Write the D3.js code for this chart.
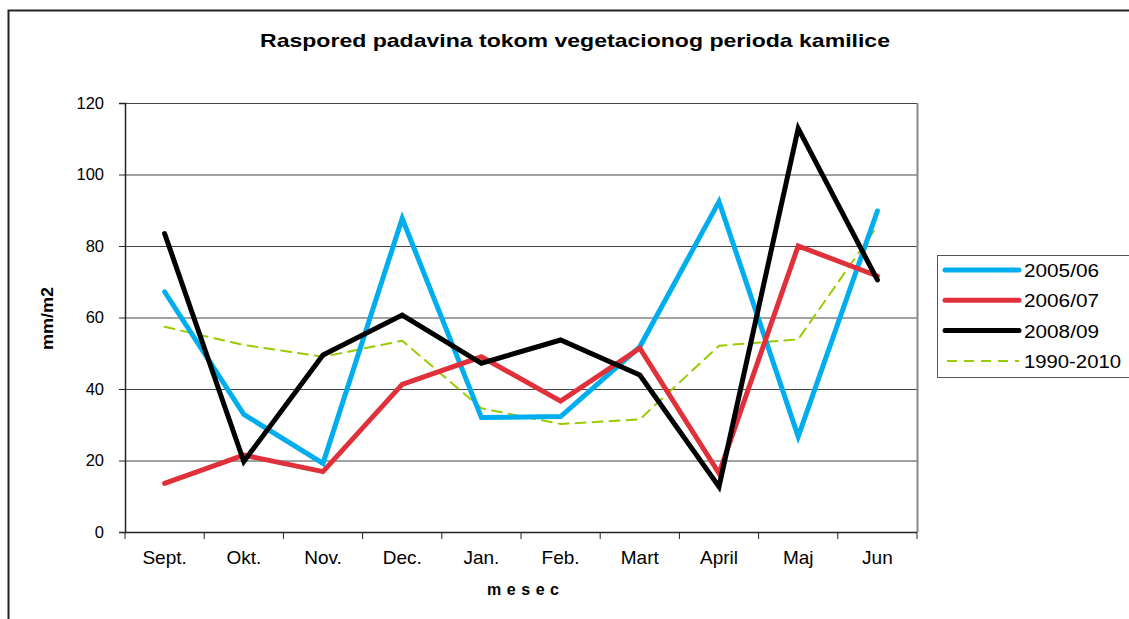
<!DOCTYPE html>
<html>
<head>
<meta charset="utf-8">
<script src="https://cdn.jsdelivr.net/npm/d3@7"></script>
<style>
  body { margin: 0; background: #fff; }
  text { font-family: "Liberation Sans", Arial, sans-serif; }
</style>
</head>
<body>
<div id="chart"></div>
<script>
// data
var months = ["Sept.", "Okt.", "Nov.", "Dec.", "Jan.", "Feb.", "Mart", "April", "Maj", "Jun"];
var seriesNames = ["2005/06", "2006/07", "2008/09", "1990-2010"];
var s2005 = [67.2, 32.9, 19.2, 87.7, 32.0, 32.3, 51.8, 92.4, 26.7, 89.8];
var s2006 = [13.6, 21.5, 16.9, 41.3, 49.0, 36.6, 51.4, 16.4, 80.0, 71.6];
var s2008 = [83.5, 19.7, 49.5, 60.7, 47.2, 53.7, 43.9, 12.7, 112.9, 70.5];
var sAvg = [57.4, 52.3, 49.0, 53.5, 34.6, 30.2, 31.5, 52.1, 53.9, 85.6];
var yTicks = [0, 20, 40, 60, 80, 100, 120];

var svgWidth = 1129;
var svgHeight = 619;

var margin = { top: 103, right: 212, bottom: 87, left: 125 };
var width = svgWidth - margin.left - margin.right;
var height = svgHeight - margin.top - margin.bottom;

var svg = d3.select("#chart").append("svg")
  .attr("width", svgWidth).attr("height", svgHeight);

// outer frame
svg.append("rect")
  .attr("x", 8.5).attr("y", 10.5)
  .attr("width", 1140).attr("height", 640)
  .attr("fill", "none").attr("stroke", "#222").attr("stroke-width", 2);

svg.append("text")
  .attr("x", 260).attr("y", 47)
  .attr("font-size", 19).attr("font-weight", "bold")
  .attr("textLength", 630).attr("lengthAdjust", "spacingAndGlyphs")
  .text("Raspored padavina tokom vegetacionog perioda kamilice");

var chartGroup = svg.append("g")
  .attr("transform", `translate(${margin.left}, ${margin.top})`);

var xScale = d3.scaleBand().domain(months).range([0, width]);
var yScale = d3.scaleLinear().domain([0, 120]).range([height, 0]);

// gridlines
chartGroup.selectAll(".grid")
  .data(yTicks.filter(d => d > 0))
  .enter().append("line")
  .attr("x1", 0).attr("x2", width)
  .attr("y1", d => yScale(d) + 0.5).attr("y2", d => yScale(d) + 0.5)
  .attr("stroke", "#444").attr("stroke-width", 1);

// right border of plot
chartGroup.append("line")
  .attr("x1", width + 0.5).attr("x2", width + 0.5)
  .attr("y1", 0).attr("y2", height)
  .attr("stroke", "#888").attr("stroke-width", 2);

// y axis
var leftAxis = d3.axisLeft(yScale).tickValues(yTicks).tickSize(6).tickPadding(15);
var yAxis = chartGroup.append("g").call(leftAxis);
yAxis.select(".domain").attr("stroke", "#222").attr("stroke-width", 1.5);
yAxis.selectAll("line").attr("stroke", "#222");
yAxis.selectAll("text").attr("font-size", 16.5).attr("fill", "#000")
  .style("font-family", "Liberation Sans, Arial, sans-serif");

// x axis with ticks on band edges
var xAxis = chartGroup.append("g").attr("transform", `translate(0, ${height})`);
xAxis.append("line")
  .attr("x1", 0).attr("x2", width)
  .attr("y1", 0.5).attr("y2", 0.5)
  .attr("stroke", "#222").attr("stroke-width", 1.5);
var edges = months.map(m => xScale(m)).concat([width]);
xAxis.selectAll(".xtick")
  .data(edges).enter().append("line")
  .attr("x1", d => d).attr("x2", d => d)
  .attr("y1", 0).attr("y2", 7)
  .attr("stroke", "#222");
xAxis.selectAll(".xlabel")
  .data(months).enter().append("text")
  .attr("x", d => xScale(d) + xScale.bandwidth() / 2)
  .attr("y", 32)
  .attr("text-anchor", "middle")
  .attr("font-size", 19)
  .text(d => d);

// axis titles
svg.append("text")
  .attr("x", 487).attr("y", 595)
  .attr("font-size", 16).attr("font-weight", "bold")
  .attr("textLength", 72).attr("lengthAdjust", "spacing")
  .text("mesec");

svg.append("text")
  .attr("transform", "translate(53, 350) rotate(-90)")
  .attr("font-size", 16).attr("font-weight", "bold")
  .attr("textLength", 63).attr("lengthAdjust", "spacingAndGlyphs")
  .text("mm/m2");

// lines
var seriesData = [s2005, s2006, s2008, sAvg];
var colors = ["#00AEEF", "#E0313B", "#000000", "#99CC00"];
var widths = [5, 5, 5, 2];
var dashes = [null, null, null, "10,7"];

var line = d3.line()
  .x((d, i) => xScale(months[i]) + xScale.bandwidth() / 2)
  .y(d => yScale(d));

// draw average first, then the years in the picture's stacking order
[3, 0, 1, 2].forEach(function(k) {
  chartGroup.append("path")
    .datum(seriesData[k])
    .attr("d", line)
    .attr("fill", "none")
    .attr("stroke", colors[k])
    .attr("stroke-width", widths[k])
    .attr("stroke-dasharray", dashes[k])
    .attr("stroke-linejoin", "miter")
    .attr("stroke-linecap", "round");
});

// legend
var legend = svg.append("g").attr("transform", "translate(937, 255)");
legend.append("rect")
  .attr("x", 0.5).attr("y", 0.5)
  .attr("width", 200).attr("height", 122)
  .attr("fill", "#fff").attr("stroke", "#555").attr("stroke-width", 1);

var items = legend.selectAll(".item")
  .data(seriesNames).enter().append("g")
  .attr("transform", (d, i) => `translate(0, ${15 + i * 30.3})`);
items.append("line")
  .attr("x1", (d, i) => i === 3 ? 10 : 8).attr("x2", 82)
  .attr("y1", 0).attr("y2", 0)
  .attr("stroke", (d, i) => colors[i])
  .attr("stroke-width", (d, i) => i === 3 ? 2 : 5)
  .attr("stroke-dasharray", (d, i) => dashes[i])
  .attr("stroke-linecap", (d, i) => i === 3 ? "butt" : "round");
items.append("text")
  .attr("x", 87).attr("y", 7)
  .attr("font-size", 18)
  .attr("textLength", (d, i) => i === 3 ? 97 : 75)
  .attr("lengthAdjust", "spacingAndGlyphs")
  .text(d => d);
</script>
</body>
</html>
